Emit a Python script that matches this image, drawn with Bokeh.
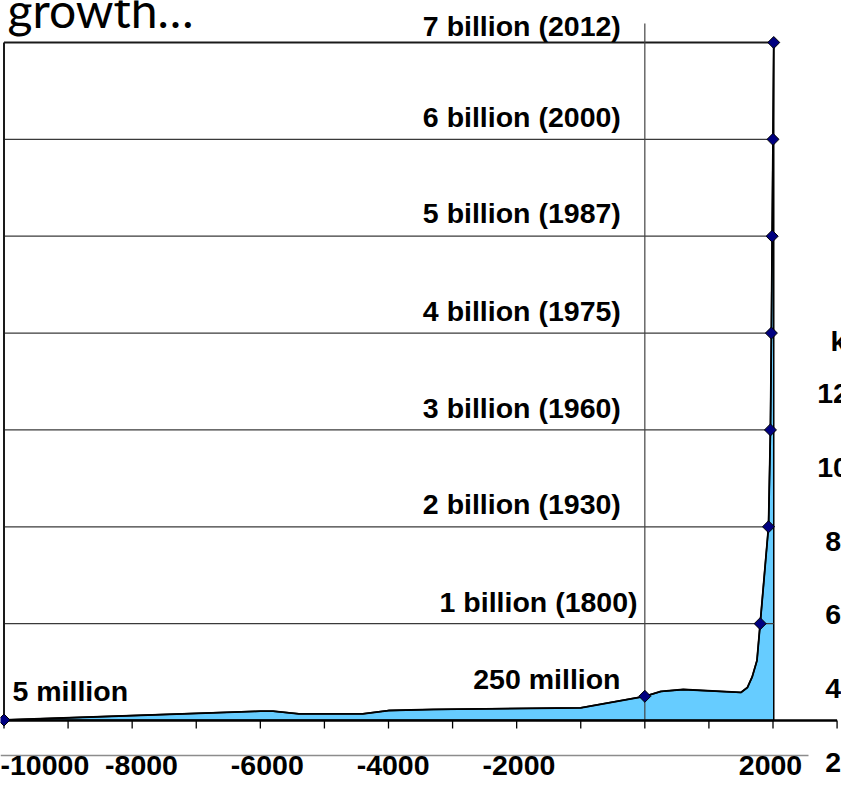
from bokeh.plotting import figure
from bokeh.models import Range1d, LinearAxis, FixedTicker, ColumnDataSource
from bokeh.core.properties import value
from bokeh.embed import file_html
from bokeh.resources import INLINE
import math

# ---------------- data ----------------
years = [-10000, -6000, -5800, -5400, -4400, -4000, -3300, -1000, 0, 250, 600,
         1500, 1600, 1675, 1750, 1800, 1930, 1960, 1975, 1987, 2000, 2012]
population_bn = [0.005, 0.096, 0.096, 0.069, 0.069, 0.103, 0.114, 0.131, 0.25, 0.30, 0.32,
                 0.29, 0.34, 0.45, 0.62, 1.0, 2.0, 3.0, 4.0, 5.0, 6.0, 7.0]

milestone_years = [-10000, 0, 1800, 1930, 1960, 1975, 1987, 2000, 2012]
milestone_pop_bn = [0.005, 0.25, 1, 2, 3, 4, 5, 6, 7]
milestone_labels = ["5 million", "250 million", "1 billion (1800)", "2 billion (1930)",
                    "3 billion (1960)", "4 billion (1975)", "5 billion (1987)",
                    "6 billion (2000)", "7 billion (2012)"]

x_ticks = list(range(-10000, 3001, 1000))
x_label_ticks = [-10000, -8000, -6000, -4000, -2000, 2000]
gridline_values = [1, 2, 3, 4, 5, 6, 7]
side_labels = ["120", "100", "80", "60", "40", "20"]
side_title = "k"
title_text = "growth\u2026"

# ---------------- geometry helpers (reference pixels -> data) ----------------
W, H = 841, 785
PPY = 0.064083      # px per year
X0 = 3.5            # px of year -10000
PPB = 96.857        # px per billion
Y0 = 720.0          # px of 0


def rx(px):
    return -10000 + (px - X0) / PPY


def ry(py):
    return (Y0 - py) / PPB


# label-axis scale (slightly different in the picture)
LPPY = 0.0629
LX0 = 15.2


def rxl(px):
    return -10000 + (px - LX0) / LPPY


p = figure(width=W, height=H, output_backend="svg", toolbar_location=None,
           x_axis_type=None, y_axis_type=None,
           x_range=Range1d(rx(0), rx(W)), y_range=Range1d(ry(H), ry(0)),
           min_border=0, min_border_left=0, min_border_right=0,
           min_border_top=0, min_border_bottom=0)
p.outline_line_color = None
p.background_fill_color = "white"
p.border_fill_color = "white"
p.extra_x_ranges = {"labels": Range1d(rxl(0), rxl(W))}

FONT_NAME = "Liberation Sans"
FONT = value(FONT_NAME)
LABEL_PX = 28.5
LABEL_SIZE = f"{LABEL_PX}px"
MID = 0.3465 * LABEL_PX      # em-middle above the baseline
TITLE_PX = 48

x_start, x_end = milestone_years[0], milestone_years[-1]

# area
p.patch(x=years + [years[-1]], y=population_bn + [0], fill_color="#66CCFF",
        line_color="black", line_width=1.5)

# horizontal grid lines (1..6 thin, 7 = frame top)
n = len(gridline_values)
p.segment(x0=[x_start] * (n - 1), y0=gridline_values[:-1], x1=[x_end] * (n - 1),
          y1=gridline_values[:-1], line_color="#3a3a3a", line_width=1.2)
p.segment(x0=[x_start], y0=gridline_values[-1:], x1=[x_end], y1=gridline_values[-1:],
          line_color="#1a1a1a", line_width=2)
# left frame edge
p.segment(x0=[x_start], y0=[0], x1=[x_start], y1=gridline_values[-1:],
          line_color="#1a1a1a", line_width=2)
# vertical line at year 0
p.segment(x0=[0], y0=[0], x1=[0], y1=[ry(23)], line_color="#444444", line_width=1.2)

# curve line
p.line(years, population_bn, line_color="black", line_width=1.8)

# x axis line and tick marks at population 0
p.segment(x0=[x_ticks[0]], y0=[0], x1=[x_ticks[-1]], y1=[0], line_color="black", line_width=2.5)
p.segment(x0=x_ticks, y0=[0] * len(x_ticks), x1=x_ticks, y1=[ry(728)] * len(x_ticks),
          line_color="black", line_width=1.3)

# milestone diamonds
p.scatter(milestone_years, milestone_pop_bn, marker="square", angle=math.pi / 4,
          size=8.5, fill_color="#000080", line_color="black", line_width=1)

# milestone labels (offsets are baseline offsets in px, converted to em-middle anchors)
lab_x = [milestone_years[0]] + [0] * (len(milestone_years) - 1)
lab_xo = [8.5, -24.3, -7.3, -24, -24, -24, -24, -24, -24]
base_yo = [-19.5, -7, -12, -12.5, -12.5, -12.5, -13, -12, -7]
lab_yo = [b - MID for b in base_yo]
src_left = ColumnDataSource(dict(x=lab_x[:1], y=milestone_pop_bn[:1], t=milestone_labels[:1],
                                 xo=lab_xo[:1], yo=lab_yo[:1]))
src_right = ColumnDataSource(dict(x=lab_x[1:], y=milestone_pop_bn[1:], t=milestone_labels[1:],
                                  xo=lab_xo[1:], yo=lab_yo[1:]))
for src, align in ((src_left, "left"), (src_right, "right")):
    p.text(x="x", y="y", text="t", x_offset="xo", y_offset="yo", source=src,
           text_font=FONT, text_font_style="bold", text_font_size=LABEL_SIZE,
           text_align=align, text_baseline="middle", text_color="black")

# title fragment (cut at the top as in the picture)
p.text(x=[rx(7)], y=[ry(28)], y_offset=-0.387 * TITLE_PX, text=[title_text],
       text_font=value("Lato"), text_font_size=f"{TITLE_PX}px", text_align="left",
       text_baseline="middle", text_color="black")

# partly visible labels of a neighbouring axis
p.text(x=[rx(840.5)] * len(side_labels), y=[ry(v) for v in (393, 467, 541, 614, 688, 762)],
       text=side_labels, text_font=FONT, text_font_style="bold", text_font_size=LABEL_SIZE,
       text_align="center", text_baseline="middle", text_color="black")
p.text(x=[rx(830)], y=[ry(340)], text=[side_title], text_font=FONT, text_font_style="bold",
       text_font_size=LABEL_SIZE, text_align="left", text_baseline="middle", text_color="black")

# label axis with grey line
label_axis = LinearAxis(x_range_name="labels", fixed_location=ry(755),
                        ticker=FixedTicker(ticks=x_label_ticks),
                        bounds=(rxl(-10), rxl(808)),
                        axis_line_color="#8c8c8c", axis_line_width=1.5,
                        major_tick_out=0, major_tick_in=0, minor_tick_out=0, minor_tick_in=0,
                        major_label_standoff=0,
                        major_label_overrides={t: str(t) for t in x_label_ticks},
                        major_label_text_font=FONT_NAME, major_label_text_font_style="bold",
                        major_label_text_font_size=LABEL_SIZE, major_label_text_color="black")
p.add_layout(label_axis, "below")

open("out.html", "w").write(file_html(p, INLINE))
